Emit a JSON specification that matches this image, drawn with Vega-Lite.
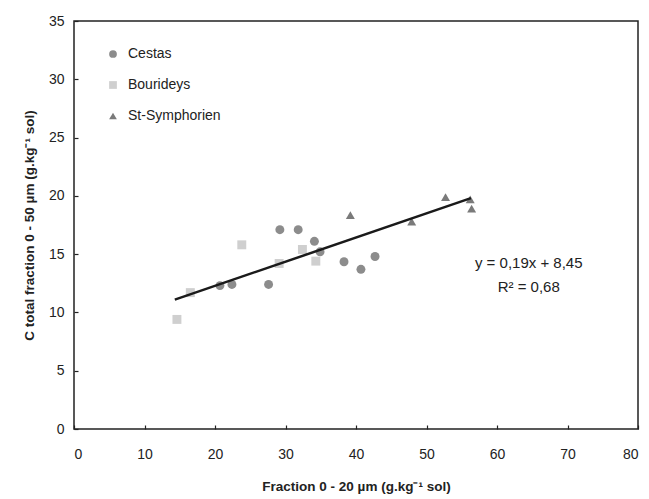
{
  "$schema": "https://vega.github.io/schema/vega-lite/v6.json",
  "width": 564,
  "height": 408,
  "autosize": {"type": "none"},
  "padding": {"left": 74, "top": 21, "right": 11, "bottom": 70},
  "background": "white",
  "config": {
    "font": "Liberation Sans",
    "view": {"stroke": "#222", "strokeWidth": 1.5},
    "axis": {"grid": false, "domain": false, "labelFont": "Liberation Sans", "labelFontSize": 14, "labelColor": "#222", "titleFont": "Liberation Sans", "titleFontSize": 13.5, "titleFontWeight": "bold", "titleColor": "#222", "tickColor": "#222", "tickSize": -4, "tickWidth": 1.2}
  },
  "datasets": {
    "pts": [
      {"site": "Cestas", "x": 20.7, "y": 12.3},
      {"site": "Cestas", "x": 22.4, "y": 12.4},
      {"site": "Cestas", "x": 27.6, "y": 12.4},
      {"site": "Cestas", "x": 29.2, "y": 17.1},
      {"site": "Cestas", "x": 31.8, "y": 17.1},
      {"site": "Cestas", "x": 34.1, "y": 16.1},
      {"site": "Cestas", "x": 34.9, "y": 15.2},
      {"site": "Cestas", "x": 38.3, "y": 14.35},
      {"site": "Cestas", "x": 40.7, "y": 13.7},
      {"site": "Cestas", "x": 42.7, "y": 14.8},
      {"site": "Bourideys", "x": 14.6, "y": 9.4},
      {"site": "Bourideys", "x": 16.5, "y": 11.7},
      {"site": "Bourideys", "x": 23.8, "y": 15.8},
      {"site": "Bourideys", "x": 29.1, "y": 14.2},
      {"site": "Bourideys", "x": 32.4, "y": 15.4},
      {"site": "Bourideys", "x": 34.3, "y": 14.4},
      {"site": "St-Symphorien", "x": 39.2, "y": 18.35},
      {"site": "St-Symphorien", "x": 47.9, "y": 17.8},
      {"site": "St-Symphorien", "x": 52.7, "y": 19.9},
      {"site": "St-Symphorien", "x": 56.4, "y": 18.9},
      {"site": "St-Symphorien", "x": 56.2, "y": 19.7}
    ],
    "fit": [
      {"x": 14.3, "y": 11.1},
      {"x": 56.3, "y": 19.8}
    ],
    "notes": [
      {"x": 64.5, "y": 14.24, "label": "y = 0,19x + 8,45"},
      {"x": 64.5, "y": 12.18, "label": "R² = 0,68"}
    ]
  },
  "layer": [
    {
      "data": {"name": "pts"},
      "mark": {"type": "point", "filled": true, "size": 80, "opacity": 1},
      "encoding": {
        "x": {"field": "x", "type": "quantitative", "scale": {"domain": [0, 80], "nice": false}, "axis": {"values": [0,10,20,30,40,50,60,70,80], "title": "Fraction 0 - 20 µm (g.kg⁻¹ sol)", "labelPadding": 22, "titlePadding": 18}},
        "y": {"field": "y", "type": "quantitative", "scale": {"domain": [0, 35], "nice": false}, "axis": {"values": [0,5,10,15,20,25,30,35], "title": "C total fraction 0 - 50  µm (g.kg⁻¹ sol)", "labelPadding": 14, "titlePadding": 12}},
        "shape": {"field": "site", "type": "nominal", "scale": {"domain": ["Cestas", "Bourideys", "St-Symphorien"], "range": ["circle", "square", "triangle-up"]}, "legend": {"title": null, "orient": "none", "legendX": 32, "legendY": 26, "labelFontSize": 14, "labelColor": "#222", "labelFont": "Liberation Sans", "rowPadding": 17, "symbolSize": 60, "labelOffset": 8}},
        "color": {"field": "site", "type": "nominal", "scale": {"domain": ["Cestas", "Bourideys", "St-Symphorien"], "range": ["#8c8c8c", "#cfcfcf", "#7a7a7a"]}, "legend": {"title": null, "orient": "none", "legendX": 32, "legendY": 26, "labelFontSize": 14, "labelColor": "#222", "labelFont": "Liberation Sans", "rowPadding": 17, "symbolSize": 60, "labelOffset": 8}}
      }
    },
    {
      "data": {"name": "fit"},
      "mark": {"type": "line", "color": "#1a1a1a", "strokeWidth": 2.5},
      "encoding": {
        "x": {"field": "x", "type": "quantitative"},
        "y": {"field": "y", "type": "quantitative"}
      }
    },
    {
      "data": {"name": "notes"},
      "mark": {"type": "text", "fontSize": 15, "color": "#222", "align": "center", "baseline": "middle", "font": "Liberation Sans"},
      "encoding": {
        "x": {"field": "x", "type": "quantitative"},
        "y": {"field": "y", "type": "quantitative"},
        "text": {"field": "label"}
      }
    }
  ]
}
